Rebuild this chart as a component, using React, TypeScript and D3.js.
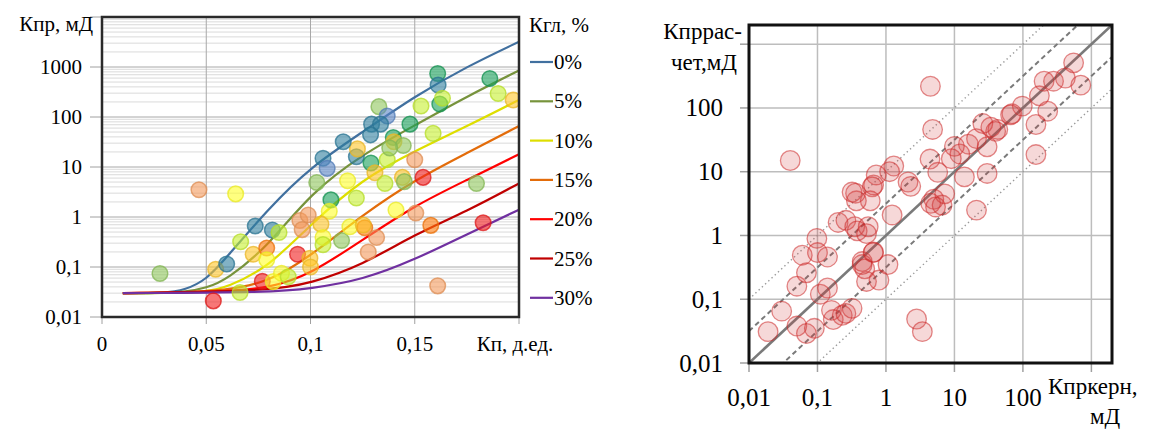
import React, { useEffect } from "react";
import * as d3 from "d3";

// ---------- left chart: Kпр vs Kп, curves for Kгл ----------
const curveLabels = ["0%", "5%", "10%", "15%", "20%", "25%", "30%"];
const curveColors = ["#41709f", "#77933c", "#dede00", "#e36c0a", "#ff0000", "#c00000", "#7030a0"];
const curveX = [
  [0.01, 0.03, 0.04, 0.05, 0.06, 0.08, 0.1, 0.125, 0.15, 0.175, 0.2],
  [0.01, 0.03, 0.04, 0.05, 0.06, 0.08, 0.1, 0.125, 0.15, 0.175, 0.2],
  [0.01, 0.03, 0.05, 0.06, 0.08, 0.1, 0.125, 0.15, 0.175, 0.2],
  [0.01, 0.03, 0.06, 0.08, 0.1, 0.125, 0.15, 0.175, 0.2],
  [0.01, 0.06, 0.08, 0.1, 0.125, 0.15, 0.175, 0.2],
  [0.01, 0.08, 0.1, 0.125, 0.15, 0.175, 0.2],
  [0.01, 0.08, 0.1, 0.125, 0.15, 0.175, 0.2],
];
const curveY = [
  [0.03, 0.03, 0.035, 0.055, 0.16, 1.5, 10, 50, 260, 1020, 3200],
  [0.03, 0.03, 0.032, 0.038, 0.056, 0.27, 3.0, 18, 68, 257, 850],
  [0.03, 0.03, 0.032, 0.039, 0.1, 0.71, 5.8, 21, 65, 220],
  [0.03, 0.03, 0.034, 0.05, 0.166, 1.1, 5.5, 19, 66],
  [0.03, 0.032, 0.038, 0.071, 0.35, 1.7, 5.5, 18],
  [0.03, 0.033, 0.047, 0.11, 0.45, 1.3, 4.7],
  [0.03, 0.031, 0.037, 0.055, 0.14, 0.45, 1.4],
];

const leftKp = [
  0.0465, 0.0641, 0.0278, 0.0545, 0.0598, 0.0534, 0.0662, 0.0665, 0.0735, 0.0817,
  0.0849, 0.0725, 0.079, 0.079, 0.0769, 0.0821, 0.0861, 0.0893, 0.0938, 0.0949,
  0.0989, 0.096, 0.0997, 0.1, 0.106, 0.108, 0.103, 0.1098, 0.122, 0.1178,
  0.109, 0.105, 0.106, 0.106, 0.1149, 0.1189, 0.126, 0.1253, 0.1317, 0.1277,
  0.122, 0.1225, 0.129, 0.1309, 0.1357, 0.1368, 0.1328, 0.153, 0.162, 0.1368,
  0.1293, 0.1336, 0.1288, 0.1477, 0.1588, 0.1157, 0.1397, 0.14, 0.1445, 0.138,
  0.1441, 0.145, 0.15, 0.154, 0.1796, 0.141, 0.1505, 0.1577, 0.1828, 0.161,
  0.161, 0.1612, 0.1633, 0.186, 0.19, 0.1972,
];
const leftKpr = [
  3.5, 2.9, 0.074, 0.09, 0.115, 0.021, 0.031, 0.32, 0.66, 0.55,
  0.49, 0.18, 0.24, 0.14, 0.052, 0.051, 0.075, 0.064, 0.18, 0.85,
  1.1, 0.56, 0.15, 0.1, 15, 9.4, 4.9, 2.2, 2.4, 5.3,
  1.3, 0.72, 0.39, 0.28, 0.34, 0.64, 0.61, 0.69, 0.39, 0.2,
  16, 23, 12, 7.7, 4.7, 14, 161, 166, 182, 105,
  72, 72, 44, 72, 47, 32, 39, 32, 27, 24,
  6.2, 5.1, 14, 6.2, 4.7, 1.38, 1.2, 0.68, 0.77, 0.042,
  740, 436, 237, 590, 295, 219,
];
const leftGroup = [
  "orangeLight", "yellow", "lightgreen", "gold", "teal", "red", "lime", "lime", "teal", "teal",
  "lime", "gold", "orange", "yellow", "red", "yellow", "yellow", "lime", "red", "orangeLight",
  "orangeLight", "orangeLight", "gold", "gold", "teal", "blue", "lightgreen", "green", "lime", "yellow",
  "yellow", "gold", "yellow", "lime", "lightgreen", "yellow", "orange", "gold", "orangeLight", "orangeLight",
  "teal", "gold", "green", "gold", "lime", "lime", "lightgreen", "lime", "green", "blue",
  "teal", "teal", "teal", "green", "lime", "teal", "green", "gold", "lightgreen", "lightgreen",
  "gold", "lightgreen", "orangeLight", "red", "lightgreen", "yellow", "orangeLight", "orange", "red", "orangeLight",
  "green", "teal", "lime", "green", "lime", "gold",
];
const groupColors: Record<string, string> = {
  teal: "#2f7f9e",
  blue: "#5a86c6",
  green: "#17a05a",
  lightgreen: "#8fc65c",
  lime: "#c6f02e",
  yellow: "#ffff2a",
  gold: "#ffc62a",
  orangeLight: "#f39a5c",
  orange: "#ff7a0a",
  red: "#f21c1c",
};

const leftXTicks = [0, 0.05, 0.1, 0.15];
const leftXTickLabels = ["0", "0,05", "0,1", "0,15"];
const leftYTicks = [0.01, 0.1, 1, 10, 100, 1000];
const leftYTickLabels = ["0,01", "0,1", "1", "10", "100", "1000"];

// ---------- right chart: calculated vs core ----------
const coreK = [
  0.04, 4.46, 4.8, 550, 204, 280, 417, 700, 174, 230,
  155, 155, 98, 66, 69, 43, 34, 26, 40, 30,
  21, 16, 12, 10, 9, 14, 30, 4.4, 5.7, 7.2,
  5, 1.3, 1.13, 0.72, 0.66, 0.63, 2.1, 2.3, 0.36, 0.59,
  21, 4.5, 5.3, 6.6, 1.23, 0.66, 0.45, 1.07, 0.52, 0.79,
  2.8, 3.4, 0.098, 0.1, 0.06, 0.14, 0.069, 0.05, 0.2, 0.26,
  0.35, 0.38, 0.55, 0.52, 0.37, 0.45, 0.49, 0.65, 0.11, 0.14,
  0.16, 0.17, 0.23, 0.26, 0.32, 0.03, 0.05, 0.069, 0.09, 0.019,
  0.32,
];
const calcK = [
  15, 219, 46, 510, 263, 263, 295, 228, 155, 89,
  55, 18.6, 107, 78, 81, 46, 50, 57, 43, 24.6,
  33, 27, 19, 25, 16, 8.3, 9.4, 15.8, 9.8, 4.5,
  3.7, 12.3, 10, 8.9, 6.2, 5.8, 6.9, 5.9, 4.6, 3.5,
  2.5, 3.2, 2.8, 3.0, 2.1, 0.55, 0.35, 0.35, 0.19, 0.2,
  0.049, 0.031, 0.9, 0.54, 0.49, 0.46, 0.26, 0.16, 1.6, 1.73,
  1.37, 1.18, 1.37, 1.07, 3.5, 0.39, 0.3, 0.54, 0.12, 0.15,
  0.067, 0.048, 0.056, 0.06, 0.072, 0.065, 0.038, 0.029, 0.035, 0.031,
  4.8,
];
const rightTicks = [0.01, 0.1, 1, 10, 100, 1000];
const rightTickLabels = ["0,01", "0,1", "1", "10", "100"];
const refFactors = [1, Math.sqrt(10), 1 / Math.sqrt(10), 10, 0.1];
const refStyles = ["solid", "dashed", "dashed", "dotted", "dotted"];

const FF = "Liberation Serif";

export default function App() {
  const W = 1154;
  const H = 429;

  useEffect(() => {
    document.body.style.margin = "0";
    document.body.style.fontFamily = '"Liberation Serif", serif';
  }, []);

  const xL = d3.scaleLinear().domain([0, 0.2]).range([102, 519]);
  const yL = d3.scaleLog().domain([0.01, 10000]).range([317, 17]);
  const xR = d3.scaleLog().domain([0.01, 2000]).range([749, 1112]);
  const yR = d3.scaleLog().domain([0.01, 2000]).range([363, 25]);

  const minorL: number[] = [];
  for (let e = -2; e < 4; e++) {
    for (let m = 2; m < 10; m++) minorL.push(m * Math.pow(10, e));
  }

  const line = d3
    .line<[number, number]>()
    .x((d) => xL(d[0]))
    .y((d) => yL(d[1]))
    .curve(d3.curveBasis);

  const [rx0, rx1] = xR.domain();

  return (
    <svg width={W} height={H} style={{ display: "block" }}>
      <style>{`text { font-family: "Liberation Serif", "Times New Roman", serif !important; }`}</style>
      <defs>
        <clipPath id="clipR">
          <rect x={749} y={25} width={363} height={338} />
        </clipPath>
        <clipPath id="clipL">
          <rect x={102} y={17} width={417} height={300} />
        </clipPath>
      </defs>

      {/* ---------- LEFT ---------- */}
      <g>
        {minorL.map((v, i) => (
          <line key={"mn" + i} x1={102} x2={519} y1={yL(v)} y2={yL(v)} stroke="#dadada" strokeWidth={1} />
        ))}
        {leftYTicks.map((v) => (
          <line key={"mj" + v} x1={102} x2={519} y1={yL(v)} y2={yL(v)} stroke="#a8a8a8" strokeWidth={1} />
        ))}
        {leftXTicks.slice(1).map((v) => (
          <line key={"vx" + v} x1={xL(v)} x2={xL(v)} y1={17} y2={317} stroke="#a8a8a8" strokeWidth={1} />
        ))}
        {[...leftYTicks, 10000].map((v) => (
          <line key={"yt" + v} x1={90} x2={102} y1={yL(v)} y2={yL(v)} stroke="#a0a0a0" strokeWidth={1} />
        ))}
        {[...leftXTicks, 0.2].map((v) => (
          <line key={"xt" + v} x1={xL(v)} x2={xL(v)} y1={317} y2={324} stroke="#a0a0a0" strokeWidth={1} />
        ))}

        <g clipPath="url(#clipL)">
          {curveX.map((xs, i) => (
            <path
              key={"c" + i}
              d={line(xs.map((x, j) => [x, curveY[i][j]] as [number, number])) || ""}
              fill="none"
              stroke={curveColors[i]}
              strokeWidth={2.2}
            />
          ))}
          {leftKp.map((x, i) => {
            const c = groupColors[leftGroup[i]];
            return (
              <circle
                key={"lp" + i}
                cx={xL(x)}
                cy={yL(leftKpr[i])}
                r={7.8}
                fill={c}
                fillOpacity={0.6}
                stroke={d3.color(c)!.darker(0.25).toString()}
                strokeOpacity={0.75}
                strokeWidth={1.5}
              />
            );
          })}
        </g>

        <rect x={102} y={17} width={417} height={300} fill="none" stroke="#2a2a2a" strokeWidth={2.5} />

        {leftYTicks.map((v, i) => (
          <text key={"yl" + v} x={82} y={yL(v) + 7} textAnchor="end" fontSize={21} fontFamily={FF}>
            {leftYTickLabels[i]}
          </text>
        ))}
        <text x={93} y={31} textAnchor="end" fontSize={21} fontFamily={FF}>
          Кпр, мД
        </text>
        {leftXTicks.map((v, i) => (
          <text key={"xl" + v} x={xL(v)} y={351} textAnchor="middle" fontSize={21} fontFamily={FF}>
            {leftXTickLabels[i]}
          </text>
        ))}
        <text x={515} y={351} textAnchor="middle" fontSize={21} fontFamily={FF}>
          Кп, д.ед.
        </text>

        {/* legend */}
        <text x={529} y={32} fontSize={21} fontFamily={FF}>
          Кгл, %
        </text>
        {curveLabels.map((lab, i) => {
          const y = 62 + i * 39.3;
          return (
            <g key={"lg" + i}>
              <line x1={530} x2={553} y1={y} y2={y} stroke={curveColors[i]} strokeWidth={2.2} />
              <text x={554} y={y + 7} fontSize={21} fontFamily={FF}>
                {lab}
              </text>
            </g>
          );
        })}
      </g>

      {/* ---------- RIGHT ---------- */}
      <g>
        {rightTicks.map((v) => (
          <g key={"rg" + v}>
            <line x1={749} x2={1112} y1={yR(v)} y2={yR(v)} stroke="#bdbdbd" strokeWidth={1.5} />
            <line x1={xR(v)} x2={xR(v)} y1={25} y2={363} stroke="#bdbdbd" strokeWidth={1.5} />
            <line x1={740} x2={749} y1={yR(v)} y2={yR(v)} stroke="#a0a0a0" strokeWidth={1.5} />
            <line x1={xR(v)} x2={xR(v)} y1={363} y2={372} stroke="#a0a0a0" strokeWidth={1.5} />
          </g>
        ))}

        <g clipPath="url(#clipR)">
          {refFactors.map((f, i) => (
            <line
              key={"ref" + i}
              x1={xR(rx0)}
              y1={yR(rx0 * f)}
              x2={xR(rx1)}
              y2={yR(rx1 * f)}
              stroke={refStyles[i] === "dotted" ? "#9a9a9a" : "#7a7a7a"}
              strokeWidth={refStyles[i] === "solid" ? 2.6 : refStyles[i] === "dashed" ? 2 : 1.4}
              strokeDasharray={refStyles[i] === "dashed" ? "5,3.5" : refStyles[i] === "dotted" ? "1.4,3" : undefined}
            />
          ))}
          {coreK.map((x, i) => (
            <circle
              key={"rp" + i}
              cx={xR(x)}
              cy={yR(calcK[i])}
              r={9.8}
              fill="#d23c3c"
              fillOpacity={0.2}
              stroke="#cc2a2a"
              strokeOpacity={0.55}
              strokeWidth={1.3}
            />
          ))}
        </g>

        <rect x={749} y={25} width={363} height={338} fill="none" stroke="#111" strokeWidth={3} />

        {rightTicks.slice(0, 5).map((v, i) => (
          <g key={"rl" + v}>
            <text x={723} y={yR(v) + 8.5} textAnchor="end" fontSize={25} fontFamily={FF}>
              {rightTickLabels[i]}
            </text>
            <text x={xR(v)} y={406} textAnchor="middle" fontSize={25} fontFamily={FF}>
              {rightTickLabels[i]}
            </text>
          </g>
        ))}
        <text x={742} y={39} textAnchor="end" fontSize={23} fontFamily={FF}>
          Кпррас-
        </text>
        <text x={737} y={70} textAnchor="end" fontSize={23} fontFamily={FF}>
          чет,мД
        </text>
        <text x={1048} y={394} fontSize={23} fontFamily={FF}>
          Кпркерн,
        </text>
        <text x={1105} y={424} textAnchor="middle" fontSize={23} fontFamily={FF}>
          мД
        </text>
      </g>
    </svg>
  );
}
